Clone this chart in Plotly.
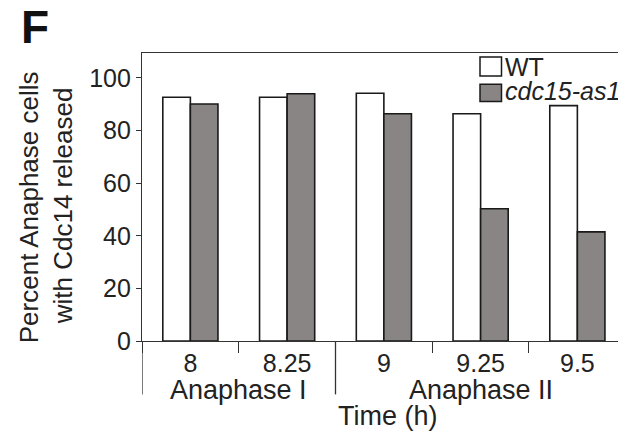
import plotly.graph_objects as go

# Data
times = ["8", "8.25", "9", "9.25", "9.5"]
wt_values = [92.7, 92.7, 94.2, 86.4, 89.5]
mutant_values = [90.1, 94.0, 86.4, 50.3, 41.5]
series_names = ["WT", "cdc15-as1"]
phase_labels = ["Anaphase I", "Anaphase II"]
phase_centers = [0.5, 3.0]
y_ticks = [0, 20, 40, 60, 80, 100]

FONT = "Arial, Liberation Sans, sans-serif"
INK = "#222222"
LINE = "#333333"
GRAY = "#8a8585"

W, H = 618, 438
L, R, T, B = 142, 0, 53, 96.5
PW = W - L - R
PH = H - T - B


def px_x(x):
    return (x - L) / PW


def px_y(y):
    return (H - B - y) / PH


fig = go.Figure()
fig.add_trace(go.Bar(x=times, y=wt_values, name=series_names[0],
                     marker=dict(color="white", line=dict(color="#1a1a1a", width=1.6)),
                     showlegend=False))
fig.add_trace(go.Bar(x=times, y=mutant_values, name=series_names[1],
                     marker=dict(color=GRAY, line=dict(color="#1a1a1a", width=1.6)),
                     showlegend=False))

fig.update_layout(
    width=W, height=H,
    margin=dict(l=L, r=R, t=T, b=B),
    paper_bgcolor="white", plot_bgcolor="white",
    barmode="group", bargap=0.43, bargroupgap=0,
    font=dict(family=FONT, color=INK),
    showlegend=False,
)
fig.update_xaxes(type="category", range=[-0.5, 4.42], tickson="boundaries",
                 ticks="outside", ticklen=11, tickcolor=LINE, tickwidth=1.3,
                 showline=True, linecolor=LINE, linewidth=1.3, mirror=True,
                 showgrid=False, tickfont=dict(size=25, family=FONT, color=INK),
                 zeroline=False)
fig.update_yaxes(range=[0, 109.5], tickvals=y_ticks, ticks="outside", ticklen=5,
                 tickcolor=LINE, tickwidth=1.3, showline=True, linecolor=LINE,
                 linewidth=1.3, showgrid=False, zeroline=False,
                 tickfont=dict(size=25, family=FONT, color=INK))

# extended vertical separators below the axis
for xb in [-0.5, 1.5]:
    fig.add_shape(type="line", xref="x", yref="paper", x0=xb, x1=xb,
                  y0=0, y1=px_y(395), line=dict(color=LINE, width=1.3))

# group labels
for lab, c in zip(phase_labels, phase_centers):
    fig.add_annotation(x=c, y=px_y(391), xref="x", yref="paper", text=lab,
                       showarrow=False, font=dict(size=27, family=FONT, color=INK),
                       xanchor="center", yanchor="middle")
fig.add_annotation(x=px_x(387.5), y=px_y(417), xref="paper", yref="paper",
                   text="Time (h)", showarrow=False,
                   font=dict(size=27, family=FONT, color=INK),
                   xanchor="center", yanchor="middle")

# y title (two lines)
fig.add_annotation(x=px_x(29), y=px_y(207.5), xref="paper", yref="paper",
                   text="Percent Anaphase cells", textangle=-90, showarrow=False,
                   font=dict(size=26, family=FONT, color=INK),
                   xanchor="center", yanchor="middle")
fig.add_annotation(x=px_x(63), y=px_y(206.5), xref="paper", yref="paper",
                   text="with Cdc14 released", textangle=-90, showarrow=False,
                   font=dict(size=26, family=FONT, color=INK),
                   xanchor="center", yanchor="middle")

# panel letter
fig.add_annotation(x=px_x(35), y=px_y(27), xref="paper", yref="paper",
                   text="<b>F</b>", showarrow=False,
                   font=dict(size=46, family=FONT, color="#111111"),
                   xanchor="center", yanchor="middle")

# legend (manual)
legend_rows = [(57, 76, "white", series_names[0], 67),
               (84.3, 101.7, GRAY, "<i>" + series_names[1] + "</i>", 91)]
for y0, y1, col, txt, yc in legend_rows:
    fig.add_shape(type="rect", xref="paper", yref="paper",
                  x0=px_x(480), x1=px_x(501.5), y0=px_y(y1), y1=px_y(y0),
                  fillcolor=col, line=dict(color="#1a1a1a", width=1.5))
    fig.add_annotation(x=px_x(503), y=px_y(yc), xref="paper", yref="paper",
                       text=txt, showarrow=False,
                       font=dict(size=25, family=FONT, color=INK),
                       xanchor="left", yanchor="middle")

fig.write_html("out.html", config={"displayModeBar": False},
               post_script="document.body.style.margin='0px';document.body.style.overflow='hidden';")
